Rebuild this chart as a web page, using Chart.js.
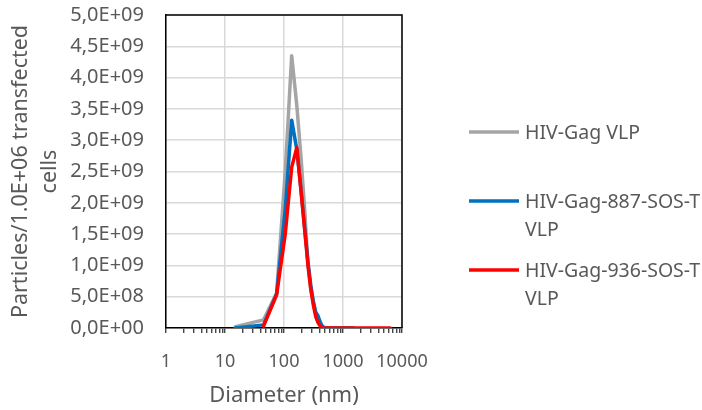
<!DOCTYPE html>
<html lang="en">
<head>
<meta charset="utf-8">
<title>Particle size distribution</title>
<script src="https://cdn.jsdelivr.net/npm/chart.js@4.4.1/dist/chart.umd.min.js"></script>
<style>
    html, body { margin: 0; padding: 0; background: #fff; }
    #marco { position: relative; width: 702px; height: 410px; }
</style>
</head>
<body>
<div id="marco"><canvas id="grafico"></canvas></div>
<script>
// Diámetros medidos (nm)
const diametros = [15, 45, 75, 105, 135, 165, 195, 225, 255, 285, 315, 345, 375, 405, 435, 465, 495, 600, 1000, 1500, 2000, 6300];

// Partículas / 1.0E+06 células transfectadas, en unidades de 1E+09
const gagVlp = [0.02, 0.13, 0.56, 2.5, 4.35, 3.55, 2.7, 1.87, 1.0, 0.6, 0.4, 0.24, 0.19, 0.12, 0.05, 0.02, 0.01, 0, 0, 0, null, null];
const gag887 = [0.0, 0.05, 0.55, 1.9, 3.32, 2.85, 2.19, 1.58, 1.05, 0.68, 0.42, 0.25, 0.2, 0.1, 0.04, 0.01, 0, 0, 0, 0, null, null];
const gag936 = [null, 0.03, 0.53, 1.5, 2.57, 2.88, 2.17, 1.55, 1.0, 0.62, 0.36, 0.18, 0.09, 0.04, 0, 0, 0, 0, 0, 0, 0, 0];
const escala = 1e9;

const nombres = ['HIV-Gag VLP', 'HIV-Gag-887-SOS-T VLP', 'HIV-Gag-936-SOS-T VLP'];
const colores = ['#a5a5a5', '#0070c0', '#ff0000'];

// Ejes
const dekady = [1, 10, 100, 1000, 10000];
const yMax = 5e9;
const yPaso = 5e8;

const fuente = '"Noto Sans", "Open Sans", sans-serif';
const gris = '#595959';

// 5e9 -> "5,0E+09" como en Excel
function formatoExcel(v) {
    const [m, e] = Number(v).toExponential(1).split('e');
    const exp = parseInt(e, 10);
    return m.replace('.', ',') + 'E' + (exp < 0 ? '-' : '+') + String(Math.abs(exp)).padStart(2, '0');
}

function puntos(serie) {
    return diametros
        .map((d, i) => ({ x: d, y: serie[i] === null ? null : serie[i] * escala }))
        .filter(p => p.y !== null);
}

// Marco superior y derecho del área de trazado
const marcoPlugin = {
    id: 'marco',
    afterDraw(chart) {
        const { ctx, chartArea: a } = chart;
        ctx.save();
        ctx.strokeStyle = '#000';
        ctx.lineWidth = 1.5;
        ctx.beginPath();
        ctx.moveTo(a.left, a.top);
        ctx.lineTo(a.right, a.top);
        ctx.lineTo(a.right, a.bottom);
        ctx.stroke();
        ctx.restore();
    }
};

// Leyenda a la derecha, con ajuste de línea
const leyendaPlugin = {
    id: 'leyendaDerecha',
    afterDraw(chart) {
        const ctx = chart.ctx;
        const x1 = 469, x2 = 519, textoX = 525;
        const arriba = 118, alto = 69, interlinea = 28;
        const anchoMax = chart.width - textoX - 1;
        ctx.save();
        ctx.font = '19.5px ' + fuente;
        ctx.textBaseline = 'middle';
        ctx.textAlign = 'left';
        chart.data.datasets.forEach((ds, i) => {
            // partir el texto en líneas
            const palabras = ds.label.split(' ');
            const lineas = [];
            let actual = '';
            palabras.forEach(p => {
                const prueba = actual ? actual + ' ' + p : p;
                if (actual && ctx.measureText(prueba).width > anchoMax) {
                    lineas.push(actual);
                    actual = p;
                } else {
                    actual = prueba;
                }
            });
            lineas.push(actual);

            const y = arriba + alto * i + interlinea / 2;
            ctx.strokeStyle = ds.borderColor;
            ctx.lineWidth = 3.5;
            ctx.beginPath();
            ctx.moveTo(x1, y);
            ctx.lineTo(x2, y);
            ctx.stroke();

            ctx.fillStyle = gris;
            lineas.forEach((l, k) => ctx.fillText(l, textoX, y + 1 + k * interlinea));
        });
        ctx.restore();
    }
};

const series = [gagVlp, gag887, gag936];
const datasets = series.map((s, i) => ({
    label: nombres[i],
    data: puntos(s),
    borderColor: colores[i],
    backgroundColor: colores[i],
    order: series.length - 1 - i
}));

new Chart(document.getElementById('grafico'), {
    type: 'line',
    data: { datasets },
    options: {
        responsive: true,
        maintainAspectRatio: false,
        animation: false,
        layout: { padding: { top: 15, right: 300, left: 0, bottom: 0 } },
        plugins: {
            legend: { display: false },
            tooltip: { enabled: false }
        },
        elements: {
            point: { radius: 0 },
            line: { borderWidth: 3.5, tension: 0, borderJoinStyle: 'round', borderCapStyle: 'round' }
        },
        scales: {
            x: {
                type: 'logarithmic',
                min: 1,
                max: 10000,
                afterBuildTicks(scale) {
                    const ticks = [];
                    dekady.forEach((d, i) => {
                        ticks.push({ value: d, major: true });
                        if (i < dekady.length - 1) {
                            for (let k = 2; k <= 9; k++) ticks.push({ value: d * k });
                        }
                    });
                    scale.ticks = ticks;
                },
                afterFit(scale) {
                    scale.height = 82;
                    scale.paddingLeft = 0;
                    scale.paddingRight = 0;
                },
                grid: {
                    color: c => (c.tick && dekady.includes(c.tick.value)) ? '#d9d9d9' : 'rgba(0,0,0,0)',
                    lineWidth: 1.5,
                    tickColor: '#262626',
                    tickLength: 5,
                    tickWidth: 1.2
                },
                border: { color: '#000', width: 1.5 },
                ticks: {
                    autoSkip: false,
                    maxRotation: 0,
                    minRotation: 0,
                    padding: 18,
                    color: gris,
                    font: { family: fuente, size: 18 },
                    callback: v => dekady.includes(v) ? String(v) : ''
                },
                title: {
                    display: true,
                    text: 'Diameter (nm)',
                    color: gris,
                    font: { family: fuente, size: 22 },
                    padding: { top: 0, bottom: 1 }
                }
            },
            y: {
                min: 0,
                max: yMax,
                afterFit(scale) {
                    scale.width = 166;
                    scale.paddingTop = 0;
                    scale.paddingBottom = 0;
                },
                grid: { color: '#d9d9d9', lineWidth: 1.5, drawTicks: false },
                border: { color: '#000', width: 1.5 },
                ticks: {
                    stepSize: yPaso,
                    padding: 22,
                    color: gris,
                    font: { family: fuente, size: 20 },
                    callback: v => formatoExcel(v)
                },
                title: {
                    display: true,
                    text: ['Particles/1.0E+06 transfected', 'cells'],
                    color: gris,
                    font: { family: fuente, size: 21.5, lineHeight: 1.35 },
                    padding: { top: 6, bottom: 0 }
                }
            }
        }
    },
    plugins: [marcoPlugin, leyendaPlugin]
});
</script>
</body>
</html>
